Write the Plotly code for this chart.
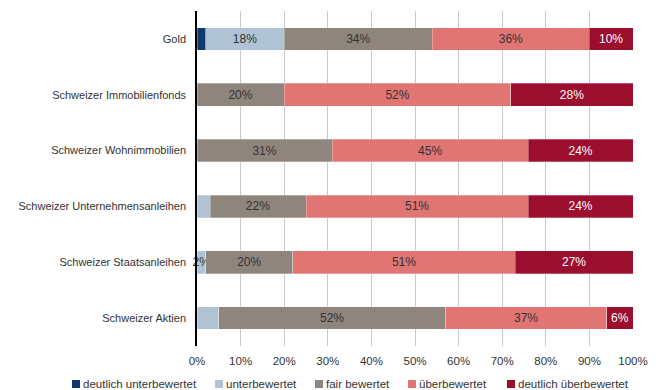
import plotly.graph_objects as go

# Asset classes, top to bottom
categories = [
    "Gold",
    "Schweizer Immobilienfonds",
    "Schweizer Wohnimmobilien",
    "Schweizer Unternehmensanleihen",
    "Schweizer Staatsanleihen",
    "Schweizer Aktien",
]

# Share of answers per valuation (percent)
deutlich_unter = [2, 0, 0, 0, 0, 0]
unter = [18, 0, 0, 3, 2, 5]
fair = [34, 20, 31, 22, 20, 52]
ueber = [36, 52, 45, 51, 51, 37]
deutlich_ueber = [10, 28, 24, 24, 27, 6]

# Segments that carry a printed percentage
label_deutlich_unter = [False] * 6
label_unter = [True, False, False, False, True, False]
label_fair = [True] * 6
label_ueber = [True] * 6
label_deutlich_ueber = [True] * 6

series = [
    ("deutlich unterbewertet", deutlich_unter, label_deutlich_unter, "#0d3b6e", "#ffffff"),
    ("unterbewertet", unter, label_unter, "#b0c3d4", "#333333"),
    ("fair bewertet", fair, label_fair, "#8e867d", "#333333"),
    ("überbewertet", ueber, label_ueber, "#e07573", "#333333"),
    ("deutlich überbewertet", deutlich_ueber, label_deutlich_ueber, "#9b0e2d", "#ffffff"),
]

FONT = "Liberation Sans, Arial, sans-serif"
W, H = 658, 390
ML, MR, MT, MB = 197, 25, 11, 44
PW, PH = W - ML - MR, H - MT - MB


def px_x(px):
    """Pixel column -> paper x."""
    return (px - ML) / PW


def px_y(py):
    """Pixel row -> paper y."""
    return (H - MB - py) / PH


fig = go.Figure()
for name, vals, show, color, txtcolor in series:
    texts = [f"{v}%" if s and v > 0 else "" for v, s in zip(vals, show)]
    fig.add_trace(go.Bar(
        name=name,
        y=categories,
        x=vals,
        orientation="h",
        marker=dict(color=color, line=dict(color="rgba(255,255,255,0.6)", width=0.5)),
        text=texts,
        textposition="inside",
        insidetextanchor="middle",
        textangle=0,
        textfont=dict(color=txtcolor, size=12, family=FONT),
        cliponaxis=False,
        showlegend=False,
    ))

# Legend row below the axis: small square swatch followed by its label
legend_swatch_left = [72, 215, 315, 408, 507]
shapes = []
annotations = []
for (name, _, _, color, _), left in zip(series, legend_swatch_left):
    shapes.append(dict(
        type="rect", xref="paper", yref="paper",
        x0=px_x(left), x1=px_x(left + 8),
        y0=px_y(388), y1=px_y(380),
        fillcolor=color, line=dict(width=0),
    ))
    annotations.append(dict(
        xref="paper", yref="paper",
        x=px_x(left + 9), y=px_y(384),
        xanchor="left", yanchor="middle",
        text=name, showarrow=False,
        font=dict(size=11.5, color="#333333", family=FONT),
    ))

fig.update_layout(
    barmode="stack",
    bargap=0.595,
    width=W,
    height=H,
    margin=dict(l=ML, r=MR, t=MT, b=MB, autoexpand=False),
    paper_bgcolor="white",
    plot_bgcolor="white",
    font=dict(family=FONT, size=12, color="#333333"),
    uniformtext=dict(minsize=12, mode="show"),
    showlegend=False,
    shapes=shapes,
    annotations=annotations,
    xaxis=dict(
        range=[0, 100],
        tickvals=[0, 10, 20, 30, 40, 50, 60, 70, 80, 90, 100],
        ticktext=[f"{v}%" for v in range(0, 101, 10)],
        showgrid=True,
        gridcolor="#c8c8c8",
        gridwidth=1,
        zeroline=False,
        showline=False,
        ticks="",
        ticklabelstandoff=6,
        tickfont=dict(size=11.5, color="#333333"),
        automargin=False,
        fixedrange=True,
    ),
    yaxis=dict(
        autorange="reversed",
        showline=True,
        linecolor="black",
        linewidth=1.5,
        showgrid=False,
        ticks="",
        ticklabelstandoff=7,
        tickfont=dict(size=11, color="#333333"),
        automargin=False,
        fixedrange=True,
    ),
)

fig.write_html("out.html")
